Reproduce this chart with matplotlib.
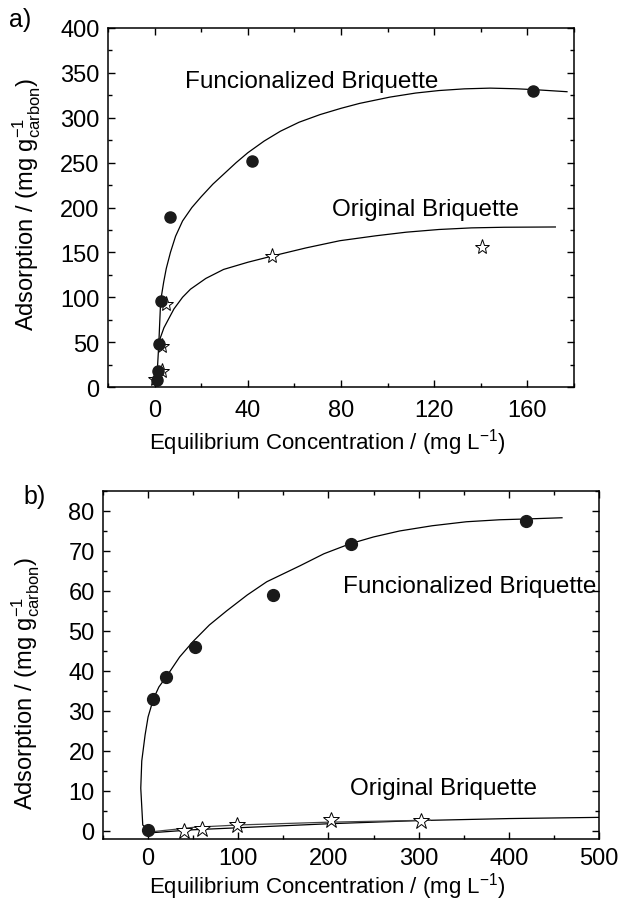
import matplotlib
matplotlib.use("Agg")
import matplotlib.pyplot as plt
from matplotlib.ticker import MultipleLocator

plt.rcParams['font.family'] = ['Liberation Sans', 'DejaVu Sans']
plt.rcParams['mathtext.fontset'] = 'custom'
plt.rcParams['mathtext.rm'] = 'Liberation Sans'

# ---- panel a) data (read from picture)
a_func_x = [1.0, 1.5, 1.8, 2.6, 6.8, 41.9, 162.4]
a_func_y = [8, 18, 48, 96, 189, 252, 330]
a_orig_x = [0.0, 3.0, 3.0, 4.7, 50.4, 140.6]
a_orig_y = [9, 18, 46, 93, 146, 156]
# fitted curves, points
a_func_fit_x = [0.5, 1.2, 1.8, 2.6, 3.9, 5, 6.8, 9, 12, 16, 20, 25, 30, 35, 40, 47, 54,
                62, 71, 80, 88, 101, 112, 122, 133, 144, 155, 163, 177]
a_func_fit_y = [9, 20, 48, 96, 117, 132, 150, 168, 185, 200, 212, 226, 238, 250, 261, 274, 285,
                295, 303.5, 310.5, 316, 323, 327.5, 330.3, 332.2, 333, 332.3, 331.3, 329]
a_orig_fit_x = [1.8, 4, 8.3, 12, 15.4, 22, 29.6, 40, 50.6, 65, 79.5, 95, 108, 122, 136, 150, 172]
a_orig_fit_y = [50, 66, 87, 100, 109, 121, 131, 139, 146, 155, 163, 168.5, 172.5, 175.5, 177.3, 178, 178.3]

# ---- panel b) data
b_func_x = [0, 5, 20, 52, 138, 225, 419]
b_func_y = [0.2, 32.9, 38.6, 46, 59, 71.8, 77.6]
b_orig_x = [40, 60, 98.5, 203, 303]
b_orig_y = [0.0, 0.4, 1.6, 2.7, 2.4]
b_func_fit_x = [0, -5.9, -8.1, -7, -3.3, 0, 5.9, 12, 20.7, 35, 50, 68, 87, 110, 131.6, 168.5,
                195, 224, 250, 279, 315, 353, 390, 420, 459]
b_func_fit_y = [0.2, 1.5, 10.7, 17.5, 24, 28.5, 33, 36, 38.7, 43.5, 47.4, 51.5, 55, 59, 62.3, 66.3,
                69.3, 71.8, 73.5, 75, 76.3, 77.3, 77.8, 78, 78.3]
b_orig_fit_x = [0, 50, 100, 200, 300, 400, 500]
b_orig_fit_y = [-0.5, 0.3, 0.8, 1.8, 2.6, 3.1, 3.4]
b_orig_fit2_x = [0, 50, 100, 200, 313]
b_orig_fit2_y = [-0.3, 0.9, 1.5, 2.2, 2.7]

ylab = r'Adsorption / (mg g$^{\mathregular{-1}}_{\mathregular{carbon}}$)'
xlab = r'Equilibrium Concentration / (mg L$^{\mathregular{-1}}$)'
dark = '#1a1a1a'

fig = plt.figure(figsize=(6.2, 9.03), dpi=100)
ax1 = fig.add_axes([0.1742, 0.5703, 0.7516, 0.3976])
ax2 = fig.add_axes([0.1661, 0.0698, 0.8, 0.3854])

# panel a
ax1.plot(a_func_fit_x, a_func_fit_y, color='black', lw=0.9)
ax1.plot(a_orig_fit_x, a_orig_fit_y, color='black', lw=0.9)
ax1.plot(a_orig_x, a_orig_y, ls='none', marker='*', ms=11, mfc='white', mec='black', mew=0.7)
ax1.plot(a_func_x, a_func_y, ls='none', marker='o', ms=8, color=dark)
ax1.set_xlim(-20, 180)
ax1.set_ylim(0, 400)
ax1.xaxis.set_major_locator(MultipleLocator(40))
ax1.xaxis.set_minor_locator(MultipleLocator(20))
ax1.yaxis.set_major_locator(MultipleLocator(50))
ax1.yaxis.set_minor_locator(MultipleLocator(25))
ax1.text(13, 341, 'Funcionalized Briquette', fontsize=17.5, va='center')
ax1.text(76, 198, 'Original Briquette', fontsize=17.5, va='center')

# panel b
ax2.plot(b_func_fit_x, b_func_fit_y, color='black', lw=0.9)
ax2.plot(b_orig_fit_x, b_orig_fit_y, color='black', lw=0.9)
ax2.plot(b_orig_fit2_x, b_orig_fit2_y, color='#444444', lw=0.9)
ax2.plot(b_orig_x, b_orig_y, ls='none', marker='*', ms=12, mfc='white', mec='black', mew=0.7)
ax2.plot(b_func_x, b_func_y, ls='none', marker='o', ms=8.5, color=dark)
ax2.set_xlim(-50, 500)
ax2.set_ylim(-2, 85)
ax2.xaxis.set_major_locator(MultipleLocator(100))
ax2.xaxis.set_minor_locator(MultipleLocator(50))
ax2.yaxis.set_major_locator(MultipleLocator(10))
ax2.yaxis.set_minor_locator(MultipleLocator(5))
ax2.text(216, 61.3, 'Funcionalized Briquette', fontsize=17.5, va='center')
ax2.text(224, 10.7, 'Original Briquette', fontsize=17.5, va='center')

for ax, bottom_dir, xpad in ((ax1, 'in', 8.5), (ax2, 'out', 6)):
    for sp in ax.spines.values():
        sp.set_linewidth(1.1)
    ax.tick_params(which='both', top=True, right=True, labelsize=17, width=1.0)
    ax.tick_params(which='major', length=5)
    ax.tick_params(which='minor', length=3)
    ax.tick_params(axis='y', which='both', left=True, direction='out', pad=6)
    ax.tick_params(axis='y', which='both', right=True, direction='in')
    ax.tick_params(axis='x', which='both', bottom=True, direction=bottom_dir, pad=xpad)
    ax.tick_params(axis='x', which='both', top=True, direction='in')
    ax.set_ylabel(ylab, fontsize=17)
    ax.set_xlabel(xlab, fontsize=16)

ax1.yaxis.set_label_coords(-0.139, 0.51)
ax1.xaxis.set_label_coords(0.47, -0.11)
ax2.yaxis.set_label_coords(-0.123, 0.451)
ax2.xaxis.set_label_coords(0.452, -0.09)

fig.text(20 / 620, 1 - 20 / 903, 'a)', fontsize=18, ha='center', va='center')
fig.text(35 / 620, 1 - 497 / 903, 'b)', fontsize=18, ha='center', va='center')

fig.savefig('out.png', dpi=100)
